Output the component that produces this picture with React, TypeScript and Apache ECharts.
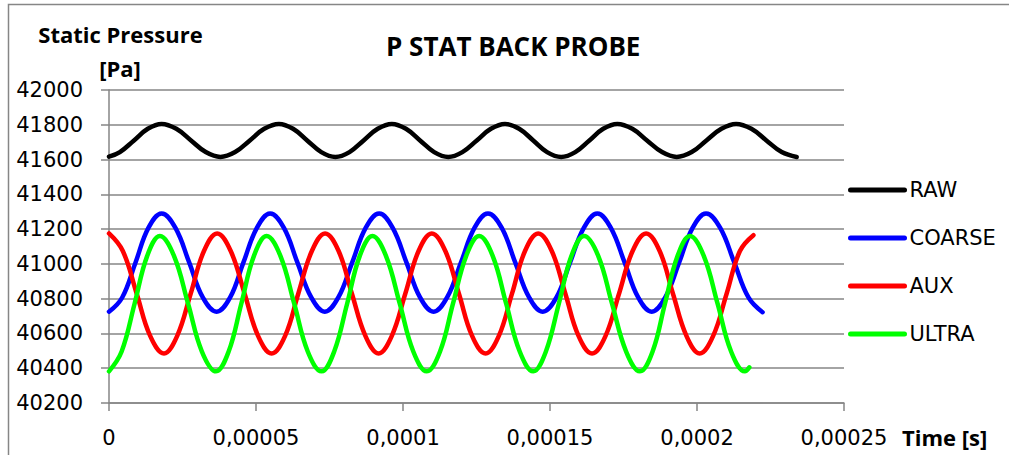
import React, { useEffect, useRef } from "react";
import * as echarts from "echarts";

const seriesNames = ["RAW", "COARSE", "AUX", "ULTRA"];
const seriesColors = ["#000000", "#0000ff", "#ff0000", "#00ff00"];

const chartTitle = "P STAT BACK PROBE";
const yAxisNameLines = ["Static Pressure", "[Pa]"];
const xAxisName = "Time [s]";

const xTickLabels = ["0", "0,00005", "0,0001", "0,00015", "0,0002", "0,00025"];
const xMin = 0;
const xMax = 0.00025;
const xStep = 0.00005;
const yMin = 40200;
const yMax = 42000;
const yStep = 200;

// Times are in units of 1e-5 s (converted when building the series)

// RAW
const rawTime = [
  0, 0.37, 0.85, 1.32, 1.79, 2.29, 2.79, 3.29, 3.79, 4.29, 4.79, 5.28, 5.78,
  6.26, 6.74, 7.22, 7.7, 8.18, 8.66, 9.14, 9.62, 10.1, 10.58, 11.06, 11.54,
  12.02, 12.51, 12.99, 13.47, 13.95, 14.43, 14.9, 15.38, 15.86, 16.34, 16.81, 17.29,
  17.8, 18.3, 18.81, 19.31, 19.82, 20.32, 20.83, 21.33, 21.85, 22.36, 22.88, 23.39,
];
const rawValue = [
  41617, 41643, 41710, 41777, 41805, 41777, 41710, 41643, 41615, 41643, 41710, 41777, 41805,
  41777, 41710, 41643, 41615, 41643, 41710, 41777, 41805, 41777, 41710, 41643, 41615,
  41643, 41710, 41777, 41805, 41777, 41710, 41643, 41615, 41643, 41710, 41777, 41805,
  41777, 41710, 41643, 41615, 41643, 41710, 41777, 41805, 41777, 41710, 41643, 41615,
];

// COARSE
const coarseTime = [
  0, 0.45, 0.9, 1.34, 1.79, 2.26, 2.73, 3.19, 3.66, 4.12, 4.57, 5.03, 5.48,
  5.95, 6.41, 6.88, 7.34, 7.8, 8.27, 8.73, 9.19, 9.65, 10.12, 10.58, 11.04,
  11.5, 11.97, 12.43, 12.89, 13.36, 13.82, 14.29, 14.75, 15.22, 15.68, 16.15, 16.61,
  17.07, 17.54, 18.0, 18.46, 18.92, 19.39, 19.85, 20.31, 20.79, 21.27, 21.75, 22.23,
];
const coarseValue = [
  40725, 40807, 41007, 41207, 41290, 41207, 41007, 40807, 40725, 40807, 41007, 41207, 41290,
  41207, 41007, 40807, 40725, 40807, 41007, 41207, 41290, 41207, 41007, 40807, 40725,
  40807, 41007, 41207, 41290, 41207, 41007, 40807, 40725, 40807, 41007, 41207, 41290,
  41207, 41007, 40807, 40725, 40807, 41007, 41207, 41290, 41207, 41007, 40807, 40722,
];

// AUX
const auxTime = [
  0, 0.47, 0.94, 1.4, 1.87, 2.32, 2.78, 3.23, 3.68, 4.14, 4.61, 5.07, 5.53,
  5.99, 6.44, 6.9, 7.35, 7.81, 8.26, 8.72, 9.17, 9.62, 10.08, 10.53, 10.98,
  11.44, 11.9, 12.35, 12.81, 13.26, 13.71, 14.15, 14.6, 15.06, 15.52, 15.97, 16.43,
  16.89, 17.35, 17.81, 18.27, 18.73, 19.18, 19.64, 20.09, 20.55, 21.01, 21.46, 21.92,
];
const auxValue = [
  41175, 41074, 40830, 40586, 40485, 40586, 40830, 41074, 41175, 41074, 40830, 40586, 40485,
  40586, 40830, 41074, 41175, 41074, 40830, 40586, 40485, 40586, 40830, 41074, 41175,
  41074, 40830, 40586, 40485, 40586, 40830, 41074, 41175, 41074, 40830, 40586, 40485,
  40586, 40830, 41074, 41175, 41074, 40830, 40586, 40485, 40586, 40830, 41074, 41165,
];

// ULTRA
const ultraTime = [
  0, 0.43, 0.87, 1.3, 1.73, 2.21, 2.69, 3.16, 3.64, 4.07, 4.5, 4.93, 5.36,
  5.83, 6.3, 6.76, 7.23, 7.66, 8.1, 8.53, 8.96, 9.42, 9.89, 10.35, 10.81,
  11.26, 11.7, 12.15, 12.59, 13.05, 13.51, 13.97, 14.43, 14.86, 15.3, 15.73, 16.16,
  16.64, 17.11, 17.59, 18.06, 18.49, 18.91, 19.34, 19.76, 20.23, 20.7, 21.16, 21.63, 21.78,
];
const ultraValue = [
  40382, 40496, 40771, 41046, 41160, 41046, 40771, 40496, 40382, 40496, 40771, 41046, 41160,
  41046, 40771, 40496, 40382, 40496, 40771, 41046, 41160, 41046, 40771, 40496, 40382,
  40496, 40771, 41046, 41160, 41046, 40771, 40496, 40382, 40496, 40771, 41046, 41160,
  41046, 40771, 40496, 40382, 40496, 40771, 41046, 41160, 41046, 40771, 40496, 40382, 40405,
];

const timeUnit = 1e-5;
const seriesTimes = [rawTime, coarseTime, auxTime, ultraTime];
const seriesValues = [rawValue, coarseValue, auxValue, ultraValue];

export default function App() {
  const ref = useRef<HTMLDivElement>(null);

  useEffect(() => {
    const chart = echarts.init(ref.current as HTMLDivElement, null, { renderer: "svg" });
    const gray = "#868686";
    const regular = "DejaVu Sans";
    const bold = "Open Sans";

    const series = seriesNames.map((name, i) => ({
      name,
      type: "line",
      smooth: 0.4,
      symbol: "none",
      showSymbol: false,
      data: seriesTimes[i].map((t, j) => [t * timeUnit, seriesValues[i][j]]),
      lineStyle: { color: seriesColors[i], width: 4.5, cap: "round", join: "round" },
      itemStyle: { color: seriesColors[i] },
    }));

    chart.setOption({
      animation: false,
      backgroundColor: "#ffffff",
      title: {
        text: chartTitle,
        left: 386,
        top: 33,
        padding: 0,
        textStyle: { fontFamily: bold, fontWeight: "bold", fontSize: 26, color: "#000000" },
      },
      legend: {
        orient: "vertical",
        left: 848,
        top: 179.5,
        padding: 0,
        itemWidth: 54,
        itemHeight: 21,
        itemGap: 27,
        data: seriesNames,
        itemStyle: { opacity: 0 },
        lineStyle: { width: 5, cap: "round" },
        textStyle: { fontFamily: regular, fontSize: 21, color: "#000000" },
      },
      grid: { left: 109, top: 90, width: 735, height: 313 },
      xAxis: {
        type: "value",
        min: xMin,
        max: xMax,
        interval: xStep,
        axisLine: { show: true, lineStyle: { color: gray, width: 1.5 } },
        axisTick: { show: true, length: 8, lineStyle: { color: gray, width: 1.5 } },
        splitLine: { show: false },
        axisLabel: {
          margin: 24,
          fontFamily: regular,
          fontSize: 21,
          color: "#000000",
          formatter: (v: number) => xTickLabels[Math.round(v / xStep)] ?? "",
        },
      },
      yAxis: {
        type: "value",
        min: yMin,
        max: yMax,
        interval: yStep,
        axisLine: { show: true, lineStyle: { color: gray, width: 1.5 } },
        axisTick: { show: true, length: 8, lineStyle: { color: gray, width: 1.5 } },
        splitLine: { show: true, lineStyle: { color: gray, width: 1.5 } },
        axisLabel: {
          margin: 26,
          fontFamily: regular,
          fontSize: 21,
          color: "#000000",
          formatter: (v: number) => String(v),
        },
      },
      graphic: [
        {
          type: "rect",
          silent: true,
          shape: { x: 8.5, y: 4.5, width: 1100, height: 600 },
          style: { fill: "none", stroke: gray, lineWidth: 1.5 },
        },
        {
          type: "text",
          style: {
            x: 120.5,
            y: 34,
            text: yAxisNameLines[0],
            align: "center",
            verticalAlign: "middle",
            font: `bold 22px "${bold}"`,
            fill: "#000000",
          },
        },
        {
          type: "text",
          style: {
            x: 120,
            y: 68,
            text: yAxisNameLines[1],
            align: "center",
            verticalAlign: "middle",
            font: `bold 22px "${bold}"`,
            fill: "#000000",
          },
        },
        {
          type: "text",
          style: {
            x: 902,
            y: 436.5,
            text: xAxisName,
            align: "left",
            verticalAlign: "middle",
            font: `bold 22px "${bold}"`,
            fill: "#000000",
          },
        },
      ],
      series,
    });

    return () => chart.dispose();
  }, []);

  return (
    <div
      ref={ref}
      style={{ position: "fixed", left: 0, top: 0, width: 1009, height: 455, background: "#ffffff" }}
    />
  );
}
